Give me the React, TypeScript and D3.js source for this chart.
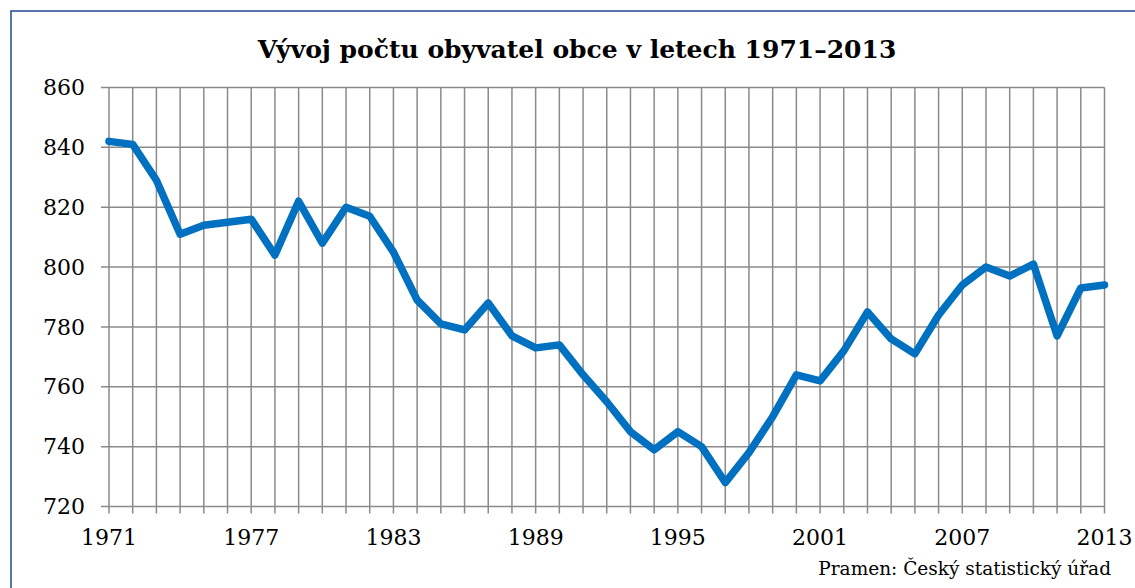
import * as d3 from "d3";

const years = d3.range(1971, 2014);
const population = [
  842, 841, 829, 811, 814, 815, 816, 804, 822, 808,
  820, 817, 805, 789, 781, 779, 788, 777, 773, 774,
  764, 755, 745, 739, 745, 740, 728, 738, 750, 764,
  762, 772, 785, 776, 771, 784, 794, 800, 797, 801,
  777, 793, 794,
];
const yTicks = [720, 740, 760, 780, 800, 820, 840, 860];
const xLabels = [1971, 1977, 1983, 1989, 1995, 2001, 2007, 2013];

const title = "Vývoj počtu obyvatel obce v letech 1971–2013";
const source = "Pramen: Český statistický úřad";

const width = 1135;
const height = 588;
const margin = { top: 87.5, right: 30.5, bottom: 81.5, left: 109 };
const font = "'DejaVu Serif', serif";

export default function App() {
  const x = d3
    .scaleLinear()
    .domain([1971, 2013])
    .range([margin.left, width - margin.right]);
  const y = d3
    .scaleLinear()
    .domain([720, 860])
    .range([height - margin.bottom, margin.top]);

  const line = d3
    .line<number>()
    .x((_, i) => x(years[i]))
    .y((d) => y(d));

  const grid = "#8a8a8a";

  return (
    <svg
      width={width}
      height={height}
      style={{ position: "absolute", left: 0, top: 0, background: "#fff" }}
    >
      <rect x={11} y={11} width={1200} height={700} fill="#fff" stroke="#2F5496" strokeWidth={1.6} />

      <text
        x={577}
        y={58}
        textAnchor="middle"
        fontFamily={font}
        fontWeight="bold"
        fontSize={25}
        fill="#000"
      >
        {title}
      </text>

      {/* vertical grid, one per year */}
      {years.map((yr) => (
        <line
          key={"v" + yr}
          x1={x(yr)}
          x2={x(yr)}
          y1={y(860)}
          y2={y(720) + 7}
          stroke={grid}
          strokeWidth={1.5}
        />
      ))}
      {/* horizontal grid */}
      {yTicks.map((t) => (
        <line
          key={"h" + t}
          x1={x(1971) - 8}
          x2={x(2013)}
          y1={y(t)}
          y2={y(t)}
          stroke={grid}
          strokeWidth={1.5}
        />
      ))}

      {yTicks.map((t) => (
        <text
          key={"yl" + t}
          x={85}
          y={y(t)}
          dy="0.35em"
          textAnchor="end"
          fontFamily={font}
          fontSize={22}
          fill="#000"
        >
          {t}
        </text>
      ))}

      {xLabels.map((yr) => (
        <text
          key={"xl" + yr}
          x={x(yr)}
          y={545}
          textAnchor="middle"
          fontFamily={font}
          fontSize={22}
          fill="#000"
        >
          {yr}
        </text>
      ))}

      <path
        d={line(population) ?? ""}
        fill="none"
        stroke="#0070C0"
        strokeWidth={7.5}
        strokeLinejoin="round"
        strokeLinecap="round"
      />

      <text
        x={1111}
        y={575}
        textAnchor="end"
        fontFamily={font}
        fontSize={18.5}
        fill="#000"
      >
        {source}
      </text>
    </svg>
  );
}
